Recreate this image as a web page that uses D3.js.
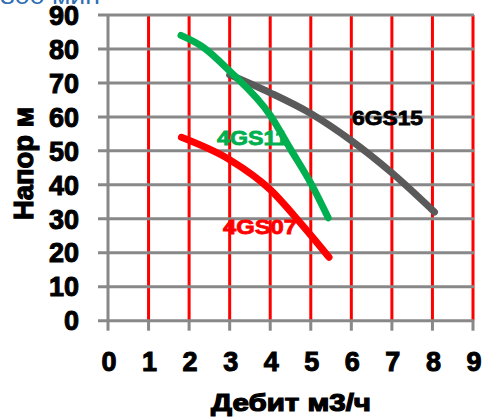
<!DOCTYPE html>
<html><head><meta charset="utf-8">
<script src="https://cdn.jsdelivr.net/npm/d3@7"></script>
<style>body{margin:0;background:#fff}svg{display:block}</style>
</head><body>
<script>
const xTicks = [0,1,2,3,4,5,6,7,8,9];
const yTicks = [0,10,20,30,40,50,60,70,80,90];
const series4GS11 = [[1.8,84],[2.35,80.5],[3.0,73.5],[4.0,60.5],[4.5,50.5],[5.0,40.5],[5.43,30.3]];
const series6GS15 = [[3.0,72.4],[4.0,67.1],[5.0,61],[6.0,53],[7.0,43.5],[8.05,32]];
const series4GS07 = [[1.81,54],[3.0,47.4],[4.0,38.6],[4.8,28],[5.45,18.7]];
const seriesNames = ["4GS11","6GS15","4GS07"];
const seriesColors = ["#00B050","#5A5A5A","#FF0000"];
const xTitle = "Дебит м3/ч";
const yTitle = "Напор м";

const W=483,H=418;
const svg=d3.select("body").append("svg").attr("width",W).attr("height",H);
const x=d3.scaleLinear().domain([0,9]).range([108,473]);
const y=d3.scaleLinear().domain([0,90]).range([320.7,15]);
const font="'Liberation Sans', Arial, sans-serif";

// partial top text (cut off by the top edge)
svg.append("text").attr("x",0).attr("y",4)
  .attr("font-family",font).attr("font-size",22).attr("fill","#2E6DB4")
  .attr("textLength",100).attr("lengthAdjust","spacingAndGlyphs").text("300 мин");

// red vertical grid
svg.append("g").selectAll("line").data(xTicks.filter(d=>d>0)).join("line")
  .attr("x1",d=>x(d)).attr("x2",d=>x(d)).attr("y1",y(90)).attr("y2",y(0))
  .attr("stroke","#FF0000").attr("stroke-width",3);
// gray ticks below axis
svg.append("g").selectAll("line").data(xTicks).join("line")
  .attr("x1",d=>x(d)).attr("x2",d=>x(d)).attr("y1",y(0)).attr("y2",y(0)+10)
  .attr("stroke","#888").attr("stroke-width",3);
// y axis line
svg.append("line").attr("x1",x(0)).attr("x2",x(0)).attr("y1",y(90)).attr("y2",y(0))
  .attr("stroke","#888").attr("stroke-width",3);
// horizontal grid
svg.append("g").selectAll("line").data(yTicks).join("line")
  .attr("x1",x(0)-10).attr("x2",x(9)+1).attr("y1",d=>y(d)).attr("y2",d=>y(d))
  .attr("stroke","#888").attr("stroke-width",3);

// y tick labels
svg.append("g").selectAll("text").data(yTicks).join("text")
  .attr("x",79).attr("y",d=>y(d)).attr("dy","0.36em").attr("text-anchor","end")
  .attr("font-family",font).attr("font-weight","bold").attr("font-size",27).attr("fill","#000")
  .attr("stroke","#000").attr("stroke-width",1)
  .text(d=>d);
// x tick labels
svg.append("g").selectAll("text").data(xTicks).join("text")
  .attr("x",d=>x(d)+1).attr("y",371).attr("text-anchor","middle")
  .attr("font-family",font).attr("font-weight","bold").attr("font-size",27).attr("fill","#000")
  .attr("stroke","#000").attr("stroke-width",1)
  .text(d=>d);

// axis titles
svg.append("text").attr("x",291).attr("y",411).attr("text-anchor","middle")
  .attr("font-family",font).attr("font-weight","bold").attr("font-size",24)
  .attr("stroke","#000").attr("stroke-width",1.2)
  .attr("textLength",160).attr("lengthAdjust","spacingAndGlyphs").text(xTitle);
svg.append("text").attr("transform","translate(33,163.5) rotate(-90)").attr("text-anchor","middle")
  .attr("font-family",font).attr("font-weight","bold").attr("font-size",28)
  .attr("stroke","#000").attr("stroke-width",1.2)
  .attr("textLength",113).attr("lengthAdjust","spacingAndGlyphs").text(yTitle);

// series labels
const labelPos=[[217,145,71],[352,125,71],[223,234,74]];
seriesNames.forEach((n,i)=>{
  const c=i===1?"#000":seriesColors[i];
  svg.append("text").attr("x",labelPos[i][0]).attr("y",labelPos[i][1])
    .attr("font-family",font).attr("font-weight","bold").attr("font-size",20)
    .attr("fill",c).attr("stroke",c).attr("stroke-width",0.8)
    .attr("textLength",labelPos[i][2]).attr("lengthAdjust","spacingAndGlyphs").text(n);
});

const line=d3.line().x(d=>x(d[0])).y(d=>y(d[1])).curve(d3.curveMonotoneX);
[series6GS15,series4GS11,series4GS07].forEach((s,k)=>{
  const c=[seriesColors[1],seriesColors[0],seriesColors[2]][k];
  svg.append("path").datum(s).attr("d",line).attr("fill","none")
    .attr("stroke",c).attr("stroke-width",7).attr("stroke-linecap","round");
});
</script>
</body></html>
